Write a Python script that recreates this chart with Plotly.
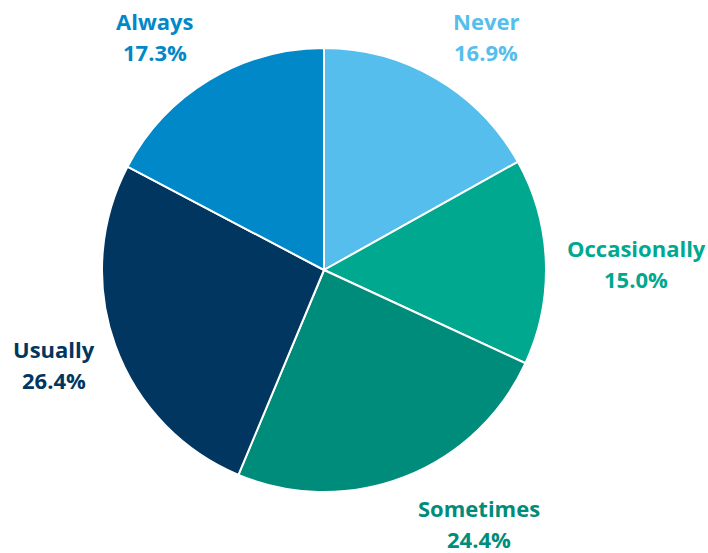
import plotly.graph_objects as go

# Response shares, clockwise from 12 o'clock
categories = ["Never", "Occasionally", "Sometimes", "Usually", "Always"]
shares = [16.9, 15.0, 24.4, 26.4, 17.3]
colors = ["#56BEEC", "#00A88F", "#008C7A", "#003660", "#0088C9"]

# Label anchor points (pixels from top-left, centre of first line)
label_pos = {
    "Never": (486, 21),
    "Occasionally": (636, 248),
    "Sometimes": (479, 508),
    "Usually": (54, 349),
    "Always": (155, 21),
}
LINE_GAP = 31

W, H = 708, 553
cx, cy, r = 324, 270, 222

fig = go.Figure(go.Pie(
    labels=categories,
    values=shares,
    sort=False,
    direction="clockwise",
    rotation=0,
    marker=dict(colors=colors, line=dict(color="white", width=2)),
    textinfo="none",
    hoverinfo="label+percent",
    showlegend=False,
    domain=dict(x=[(cx - r) / W, (cx + r) / W],
                y=[(H - cy - r) / H, (H - cy + r) / H]),
))

for cat, val, col in zip(categories, shares, colors):
    x, y = label_pos[cat]
    for i, line in enumerate([cat, f"{val:.1f}%"]):
        fig.add_annotation(
            x=x / W, y=1 - (y + i * LINE_GAP) / H, xref="paper", yref="paper",
            text=f"<b>{line}</b>",
            showarrow=False, align="center",
            font=dict(family="Open Sans", size=22, color=col),
            xanchor="center", yanchor="middle",
        )

fig.update_layout(
    width=W, height=H,
    margin=dict(l=0, r=0, t=0, b=0),
    paper_bgcolor="white", plot_bgcolor="white",
)

fig.write_html("out.html")
